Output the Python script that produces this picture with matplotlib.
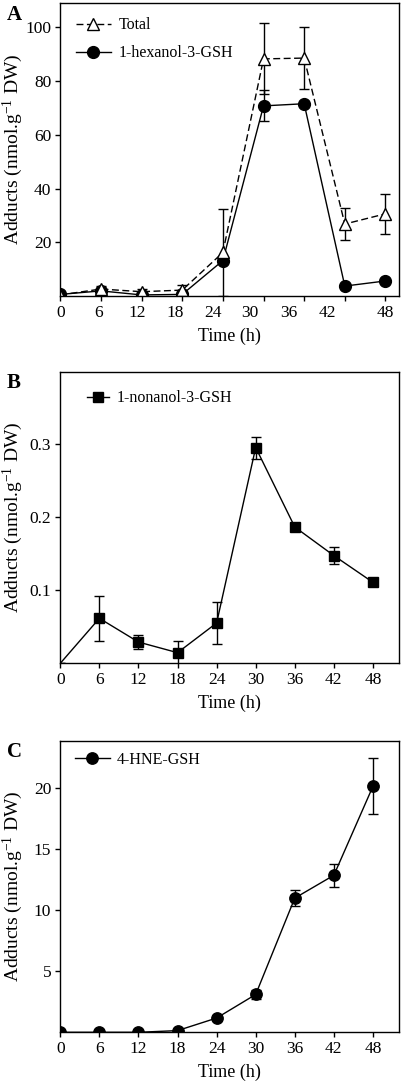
import matplotlib
matplotlib.use("Agg")
import matplotlib.pyplot as plt
import matplotlib.ticker as mticker

plt.rcParams['font.family'] = ['Liberation Serif', 'DejaVu Serif']
plt.rcParams['mathtext.fontset'] = 'custom'
plt.rcParams['mathtext.rm'] = 'Liberation Serif'
plt.rcParams['mathtext.it'] = 'Liberation Serif:italic'
plt.rcParams['mathtext.bf'] = 'Liberation Serif:bold'

# ---- data ----
time_h = [0, 6, 12, 18, 24, 30, 36, 42, 48]
xtick_vals = [0, 6, 12, 18, 24, 30, 36, 42, 48]
xtick_labels = ['0', '6', '12', '18', '24', '30', '36', '42', '48']

total = [0.4, 2.6, 1.6, 2.2, 16.2, 88.3, 88.6, 26.8, 30.6]
total_err = [0.5, 1.0, 1.0, 2.0, 16.3, 13.2, 11.5, 6.0, 7.5]
hexanol = [0.6, 1.9, 0.4, 0.6, 13.2, 70.8, 71.6, 3.7, 5.6]
hexanol_err = [0.3, 0.5, 0.3, 0.3, 0.5, 5.8, 0.5, 0.5, 0.5]

nonanol = [0.0, 0.0614, 0.0290, 0.0145, 0.0550, 0.2945, 0.1860, 0.1470, 0.1105]
nonanol_err = [0.0, 0.031, 0.010, 0.016, 0.029, 0.015, 0.003, 0.012, 0.003]

hne = [0.0, 0.0, 0.0, 0.14, 1.17, 3.1, 11.0, 12.87, 20.16]
hne_err = [0.0, 0.0, 0.0, 0.05, 0.1, 0.35, 0.65, 0.95, 2.3]

ylabel = 'Adducts (nmol.g$^{-1}$ DW)'
xlabel = 'Time (h)'

# In panel A of the original the tick labels sit slightly left of their tick marks
panelA_label_pos = [0, 5.6, 11.4, 16.9, 22.6, 28.0, 33.7, 39.4, 48]

W, H = 402, 1083
fig = plt.figure(figsize=(W / 100, H / 100), dpi=100)

left = 60.3 / W
width = (399 - 60.3) / W

def make_ax(top_px, bot_px):
    return fig.add_axes([left, 1 - bot_px / H, width, (bot_px - top_px) / H])

axA = make_ax(3.3, 296)
axB = make_ax(371.7, 663.3)
axC = make_ax(740.7, 1032.3)

eb_kw = dict(color='black', lw=1.0, elinewidth=1.0, capsize=3.5, capthick=1.0)
leg_kw = dict(loc='upper left', frameon=False, fontsize=11.5, handletextpad=0.45,
              borderpad=0, borderaxespad=0)

# Panel A
hA = axA.errorbar(time_h, hexanol, yerr=hexanol_err, fmt='-o', ms=8.5,
                  mfc='black', mec='black', label='1-hexanol-3-GSH', **eb_kw)
tA = axA.errorbar(time_h, total, yerr=total_err, fmt='--^', ms=8.5,
                  mfc='white', mec='black', mew=1.0, label='Total', **eb_kw)
tA.lines[0].set_dashes((5, 2.5))
axA.set_xlim(0, 50)
axA.set_ylim(0, 109)
axA.set_yticks([20, 40, 60, 80, 100])
axA.legend(handles=[tA.lines[0], hA.lines[0]], labels=['Total', '1-hexanol-3-GSH'],
           bbox_to_anchor=(0.046, 0.952), handlelength=2.2, labelspacing=0.75, **leg_kw)

# Panel B
bB = axB.errorbar(time_h, nonanol, yerr=nonanol_err, fmt='-s', ms=7.2,
                  mfc='black', mec='black', markevery=slice(1, None),
                  label='1-nonanol-3-GSH', **eb_kw)
axB.set_xlim(0, 52)
axB.set_ylim(0, 0.398)
axB.set_yticks([0.1, 0.2, 0.3])
axB.yaxis.set_major_formatter(mticker.FormatStrFormatter('%.1f'))
axB.legend(handles=[bB.lines[0]], labels=['1-nonanol-3-GSH'],
           bbox_to_anchor=(0.079, 0.936), handlelength=1.4, **leg_kw)

# Panel C
cC = axC.errorbar(time_h, hne, yerr=hne_err, fmt='-o', ms=8.2,
                  mfc='black', mec='black', label='4-HNE-GSH', **eb_kw)
axC.set_xlim(0, 52)
axC.set_ylim(0, 23.9)
axC.set_yticks([5, 10, 15, 20])
axC.legend(handles=[cC.lines[0]], labels=['4-HNE-GSH'],
           bbox_to_anchor=(0.043, 0.962), handlelength=2.2, **leg_kw)

for ax in (axA, axB, axC):
    ax.set_xticks(xtick_vals)
    ax.set_xticklabels(xtick_labels)
    ax.tick_params(direction='out', length=3.5, width=1, labelsize=12.5, pad=3,
                   top=False, right=False)
    for s in ax.spines.values():
        s.set_linewidth(1.0)
    ax.set_xlabel(xlabel, fontsize=13, labelpad=4.5)
    ax.set_ylabel(ylabel, fontsize=14)
    ax.yaxis.set_label_coords(-0.105, 0.5)

# panel A: tick marks at the data times, labels at their (shifted) printed spots
axA.xaxis.remove_overlapping_locs = False
axA.set_xticklabels([])
axA.set_xticks(panelA_label_pos, minor=True)
axA.set_xticklabels(xtick_labels, minor=True)
axA.tick_params(axis='x', which='minor', length=0, labelsize=12.5, pad=6.5)

for letter, top_px in (('A', 5), ('B', 373), ('C', 742)):
    fig.text(7 / W, 1 - top_px / H, letter, fontsize=15, fontweight='bold',
             va='top', ha='left')

fig.savefig('out.png', dpi=100)
